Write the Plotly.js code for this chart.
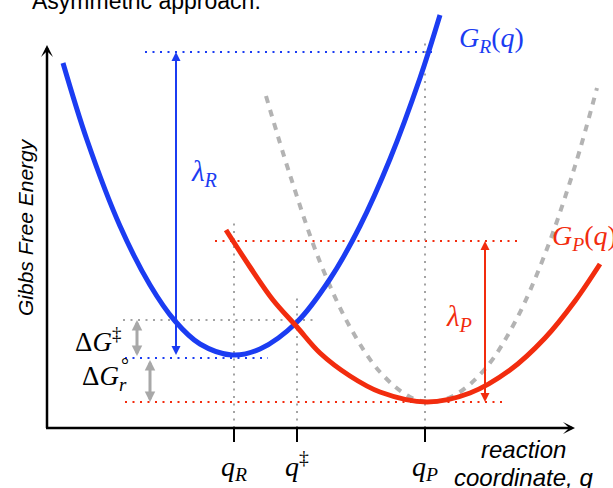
<!DOCTYPE html>
<html><head><meta charset="utf-8">
<script src="https://cdn.plot.ly/plotly-3.0.1.min.js"></script>
<style>html,body{margin:0;padding:0;background:#fff}</style>
</head><body><div id="chart" style="width:613px;height:488px"></div>
<script>
// reaction-coordinate positions
const qR = 187, qTS = 250, qP = 378;
// energy levels
const GR_min = 70, GR_at_qP = 376, GP_min = 26, GP_at_qR = 187, G_TS = 108;
const tickVals = [qR, qTS, qP];
const tickText = ['<i>q</i><sub><i>R</i></sub>', '<i>q</i><sup>‡</sup>', '<i>q</i><sub><i>P</i></sub>'];

// reactant free-energy curve G_R(q)
const blueQ = [16, 40, 73, 103, 128, 153, 185, 213, 250, 283, 313, 343, 373, 393];
const blueG = [365, 288, 202, 143, 107, 84, 73, 79, 106, 149, 202, 269, 350, 413];
// product free-energy curve G_P(q)
const redQ = [179, 203, 226, 250, 273, 303, 333, 380, 423, 463, 498, 528, 553];
const redG = [198, 161, 128, 101, 75, 52, 36, 26, 35, 58, 90, 127, 164];
// symmetric reference curve (grey dashed)
const greyQ = [219, 243, 273, 303, 333, 363, 384, 408, 438, 468, 498, 528, 550];
const greyG = [332, 253, 166, 101, 56, 31, 26, 33, 59, 106, 174, 262, 340];

const BLUE = '#1b3cf2', RED = '#f22c0e', GREY = '#b3b3b3', DOT = '#a3a3a3', GARROW = '#a8a8a8';
const SERIF = 'Liberation Serif', SANS = 'Liberation Sans';

const traces = [
  {x: greyQ, y: greyG, mode: 'lines', line: {color: GREY, width: 4, dash: '7px,7px', shape: 'spline'}, hoverinfo: 'skip'},
  {x: blueQ, y: blueG, mode: 'lines', line: {color: BLUE, width: 5, shape: 'spline'}, hoverinfo: 'skip'},
  {x: redQ, y: redG, mode: 'lines', line: {color: RED, width: 5, shape: 'spline'}, hoverinfo: 'skip'}
];

function hdot(y, x0, x1, color) {
  return {type: 'line', xref: 'x', yref: 'y', x0: x0, x1: x1, y0: y, y1: y, layer: 'below',
          line: {color: color, width: 2, dash: '2px,5.5px'}};
}
function vdot(x, y0, y1) {
  return {type: 'line', xref: 'x', yref: 'y', x0: x, x1: x, y0: y0, y1: y1, layer: 'below',
          line: {color: DOT, width: 2, dash: '2px,5.5px'}};
}
const shapes = [
  hdot(GR_at_qP, 98, 385, BLUE),
  hdot(GR_min, 78, 221, BLUE),
  hdot(GP_at_qR, 168, 473, RED),
  hdot(GP_min, 78, 455, RED),
  hdot(G_TS, 76, 271, DOT),
  vdot(qR, 0, 210),
  vdot(qTS, 0, 131),
  vdot(qP, 0, 386)
];

function dblArrow(x, y0, y1, color, w, size) {
  return {x: x, y: y1, ax: x, ay: y0, xref: 'x', yref: 'y', axref: 'x', ayref: 'y', text: '',
          showarrow: true, arrowside: 'end+start', arrowhead: 2, startarrowhead: 2,
          arrowsize: size, startarrowsize: size, arrowwidth: w, arrowcolor: color,
          borderpad: 0, borderwidth: 0, standoff: 0, startstandoff: 0};
}
function axisArrow(x, y, ax, ay) {
  return {x: x, y: y, ax: ax, ay: ay, xref: 'x', yref: 'y', axref: 'x', ayref: 'y', text: '',
          showarrow: true, arrowhead: 3, arrowsize: 0.8, arrowwidth: 2.5, arrowcolor: '#000',
          borderpad: 0, borderwidth: 0, standoff: 0};
}
function label(text, x, y, size, color, family, opts) {
  return Object.assign({x: x, y: y, xref: 'x', yref: 'y', text: text, showarrow: false,
          font: {family: family, size: size, color: color}, xanchor: 'center', yanchor: 'middle'}, opts || {});
}

const annotations = [
  axisArrow(0, 383, 0, 0),
  axisArrow(528, 0, -1, 0),
  dblArrow(129, GR_at_qP, GR_min + 3, BLUE, 2, 0.9),
  dblArrow(438, GP_at_qR, GP_min, RED, 2, 0.9),
  dblArrow(90, G_TS, GR_min + 2, GARROW, 3, 0.7),
  dblArrow(103, GR_min - 2, GP_min, GARROW, 3, 0.7),
  label('<i>G</i><sub><i>R</i></sub>(<i>q</i>)', 444, 389, 28, BLUE, SERIF),
  label('<i>G</i><sub><i>P</i></sub>(<i>q</i>)', 503, 191, 28, RED, SERIF, {xanchor: 'left'}),
  label('<i>λ</i><sub><i>R</i></sub>', 157, 255, 29, BLUE, SERIF),
  label('<i>λ</i><sub><i>P</i></sub>', 412, 110, 29, RED, SERIF),
  label('Δ<i>G</i><sup>‡</sup>', 51, 88, 27, '#000', SERIF),
  label('Δ<i>G</i><sub><i>r</i></sub>', 57, 50, 27, '#000', SERIF),
  label('°', 78, 63, 20, '#000', SERIF),
  {x: -0.030, y: 0.998, xref: 'paper', yref: 'paper', text: 'Asymmetric approach:', showarrow: false,
   xanchor: 'left', yanchor: 'middle', font: {family: SANS, size: 23, color: '#000'}},
  {x: 0.841, y: -0.0514, xref: 'paper', yref: 'paper', text: '<i>reaction</i>', showarrow: false,
   xanchor: 'center', yanchor: 'middle', font: {family: SANS, size: 24, color: '#000'}},
  {x: 0.841, y: -0.1168, xref: 'paper', yref: 'paper', text: '<i>coordinate, q</i>', showarrow: false,
   xanchor: 'center', yanchor: 'middle', font: {family: SANS, size: 24, color: '#000'}},
  {x: -0.0389, y: 0.4696, xref: 'paper', yref: 'paper', text: '<i>Gibbs Free Energy</i>', showarrow: false,
   textangle: -90, xanchor: 'center', yanchor: 'middle', font: {family: SANS, size: 21, color: '#000'}}
];

const layout = {
  width: 613, height: 488,
  margin: {l: 47, r: 0, t: 0, b: 60},
  paper_bgcolor: '#fff', plot_bgcolor: '#fff',
  showlegend: false,
  xaxis: {range: [0, 566], showgrid: false, zeroline: false, showline: false,
          tickmode: 'array', tickvals: tickVals, ticktext: tickText,
          ticks: 'outside', ticklen: 13, tickwidth: 2.5, tickcolor: '#000',
          tickfont: {family: SERIF, size: 28, color: '#000'}},
  yaxis: {range: [0, 428], showgrid: false, zeroline: false, showline: false,
          showticklabels: false, ticks: ''},
  shapes: shapes,
  annotations: annotations
};

Plotly.newPlot('chart', traces, layout, {staticPlot: true, displayModeBar: false});
</script></body></html>
